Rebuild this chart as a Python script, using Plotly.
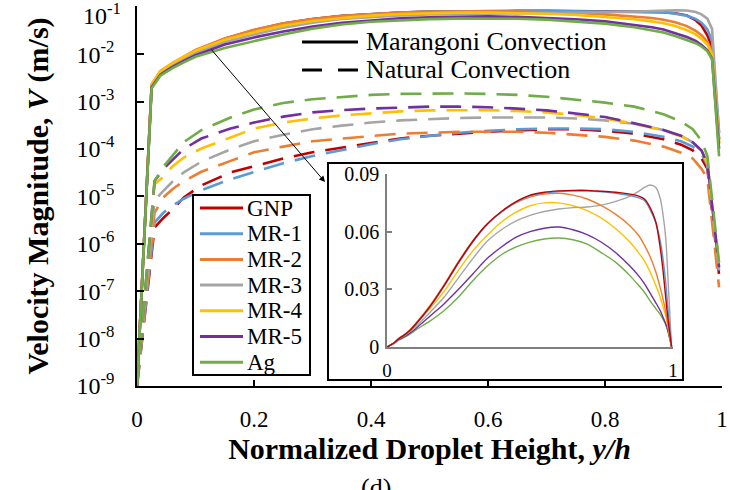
import plotly.graph_objects as go

# ---------------- data ----------------
FLUIDS = ["GNP", "MR-1", "MR-2", "MR-3", "MR-4", "MR-5", "Ag"]
COLORS = ["#C00000", "#5B9BD5", "#ED7D31", "#A5A5A5", "#FFC000", "#7030A0", "#70AD47"]

# Marangoni convection: velocity magnitude (m/s) vs normalized droplet height y/h
Y_MARANGONI = [0, 0.025, 0.04, 0.06, 0.08, 0.1, 0.15, 0.2, 0.25, 0.3, 0.35, 0.4, 0.45, 0.5,
               0.55, 0.6, 0.65, 0.7, 0.75, 0.8, 0.85, 0.88, 0.9, 0.92, 0.94, 0.955, 0.965,
               0.975, 0.983, 0.995]
V_GNP_M = [1e-9, 2.2e-3, 4.2e-3, 6.2e-3, 8.6e-3, 0.0118, 0.021, 0.032, 0.044, 0.055, 0.064,
           0.0705, 0.0755, 0.079, 0.0805, 0.0812, 0.0815, 0.0815, 0.081, 0.0805, 0.0795,
           0.0785, 0.077, 0.0725, 0.065, 0.052, 0.040, 0.025, 0.014, 1.6e-4]
V_MR1_M = [1e-9, 2.2e-3, 4.1e-3, 6.1e-3, 8.5e-3, 0.0116, 0.0207, 0.0317, 0.0436, 0.0546,
           0.0636, 0.0702, 0.0752, 0.0786, 0.0801, 0.0809, 0.0811, 0.0811, 0.0807, 0.0800,
           0.0788, 0.0776, 0.0762, 0.0715, 0.0645, 0.0555, 0.046, 0.033, 0.019, 2.2e-4]
V_MR2_M = [1e-9, 2.3e-3, 4.4e-3, 6.4e-3, 8.9e-3, 0.0122, 0.0215, 0.0325, 0.0445, 0.0552,
           0.0638, 0.0702, 0.075, 0.078, 0.0795, 0.080, 0.079, 0.077, 0.0735, 0.069, 0.063,
           0.058, 0.053, 0.047, 0.039, 0.031, 0.025, 0.018, 0.011, 1.3e-4]
V_MR3_M = [1e-9, 2.1e-3, 4.0e-3, 5.8e-3, 8.0e-3, 0.0105, 0.018, 0.026, 0.036, 0.046, 0.055,
           0.061, 0.0655, 0.0685, 0.0705, 0.0718, 0.0725, 0.0728, 0.0738, 0.0758, 0.0785,
           0.081, 0.083, 0.0843, 0.083, 0.0775, 0.069, 0.056, 0.034, 2.1e-4]
V_MR4_M = [1e-9, 2.3e-3, 4.4e-3, 6.4e-3, 8.8e-3, 0.0118, 0.020, 0.029, 0.040, 0.050, 0.058,
           0.065, 0.070, 0.0735, 0.075, 0.075, 0.0735, 0.071, 0.067, 0.0615, 0.0545, 0.049,
           0.0448, 0.039, 0.032, 0.026, 0.021, 0.016, 0.010, 1.3e-4]
V_MR5_M = [1e-9, 2.0e-3, 3.7e-3, 5.3e-3, 7.2e-3, 0.0095, 0.016, 0.0225, 0.030, 0.038, 0.046,
           0.052, 0.057, 0.060, 0.0618, 0.0624, 0.061, 0.0585, 0.0545, 0.049, 0.042, 0.037,
           0.033, 0.028, 0.023, 0.019, 0.0155, 0.012, 0.008, 1e-4]
V_AG_M = [1e-9, 1.9e-3, 3.5e-3, 5.0e-3, 6.7e-3, 0.0088, 0.0135, 0.019, 0.026, 0.0345, 0.042,
          0.048, 0.052, 0.0546, 0.0562, 0.0567, 0.0558, 0.0535, 0.049, 0.044, 0.037, 0.032,
          0.0285, 0.024, 0.020, 0.017, 0.0145, 0.0115, 0.0078, 7e-5]

# Natural convection: velocity magnitude (m/s)
Y_NATURAL = [0, 0.03, 0.045, 0.06, 0.08, 0.11, 0.16, 0.2, 0.25, 0.3, 0.35, 0.4, 0.45, 0.5,
             0.55, 0.6, 0.65, 0.7, 0.75, 0.8, 0.85, 0.9, 0.93, 0.95, 0.965, 0.975, 0.995]
V_GNP_N = [1e-9, 2.2e-6, 3.5e-6, 5.2e-6, 9.5e-6, 1.7e-5, 3.2e-5, 4.3e-5, 6.3e-5, 8.5e-5,
           1.07e-4, 1.35e-4, 1.66e-4, 1.9e-4, 2.1e-4, 2.3e-4, 2.45e-4, 2.6e-4, 2.6e-4,
           2.4e-4, 2.1e-4, 1.6e-4, 1.23e-4, 9.3e-5, 6.3e-5, 3.8e-5, 2.2e-7]
V_MR1_N = [1e-9, 2.8e-6, 4.5e-6, 6.3e-6, 8.9e-6, 1.35e-5, 2.3e-5, 3.3e-5, 5.0e-5, 7.1e-5,
           9.5e-5, 1.26e-4, 1.6e-4, 1.9e-4, 2.2e-4, 2.4e-4, 2.6e-4, 2.7e-4, 2.7e-4, 2.6e-4,
           2.3e-4, 1.8e-4, 1.45e-4, 1.12e-4, 7.9e-5, 4.5e-5, 2.5e-7]
V_MR2_N = [1e-9, 4.5e-6, 9.5e-6, 1.4e-5, 2.1e-5, 3.3e-5, 5.6e-5, 8.5e-5, 1.12e-4, 1.45e-4,
           1.66e-4, 1.9e-4, 2.1e-4, 2.2e-4, 2.3e-4, 2.3e-4, 2.3e-4, 2.2e-4, 2.0e-4, 1.8e-4,
           1.5e-4, 1.12e-4, 8.3e-5, 6.3e-5, 3.8e-5, 2.4e-5, 1.2e-7]
V_MR3_N = [1e-9, 8.3e-6, 1.3e-5, 2.0e-5, 3.2e-5, 5.4e-5, 9.8e-5, 1.45e-4, 2.0e-4, 2.6e-4,
           3.1e-4, 3.6e-4, 4.0e-4, 4.3e-4, 4.5e-4, 4.6e-4, 4.6e-4, 4.6e-4, 4.4e-4, 4.0e-4,
           3.4e-4, 2.5e-4, 1.9e-4, 1.38e-4, 9.3e-5, 5.0e-5, 2.8e-7]
V_MR4_N = [1e-9, 1.8e-5, 2.6e-5, 4.2e-5, 6.6e-5, 1.02e-4, 1.74e-4, 2.7e-4, 3.6e-4, 4.4e-4,
           5.1e-4, 5.6e-4, 6.2e-4, 6.5e-4, 6.6e-4, 6.6e-4, 6.3e-4, 5.9e-4, 5.2e-4, 4.4e-4,
           3.4e-4, 2.45e-4, 1.86e-4, 1.35e-4, 9.1e-5, 5.0e-5, 3.5e-7]
V_MR5_N = [1e-9, 2.1e-5, 3.8e-5, 5.8e-5, 1.0e-4, 1.66e-4, 2.7e-4, 3.6e-4, 4.8e-4, 5.9e-4,
           6.6e-4, 7.1e-4, 7.4e-4, 7.8e-4, 7.8e-4, 7.6e-4, 7.1e-4, 6.5e-4, 5.6e-4, 4.7e-4,
           3.5e-4, 2.5e-4, 1.9e-4, 1.38e-4, 9.3e-5, 5.0e-5, 3.2e-7]
V_AG_N = [1e-9, 2.1e-5, 4.2e-5, 7.2e-5, 1.4e-4, 2.5e-4, 4.6e-4, 6.8e-4, 9.3e-4, 1.12e-3,
          1.26e-3, 1.38e-3, 1.45e-3, 1.48e-3, 1.48e-3, 1.45e-3, 1.38e-3, 1.26e-3, 1.10e-3,
          9.5e-4, 7.8e-4, 5.4e-4, 3.8e-4, 2.6e-4, 1.5e-4, 7.1e-5, 4.0e-7]

X_TICKS = [0, 0.2, 0.4, 0.6, 0.8, 1]
X_TICK_TEXT = ["0", "0.2", "0.4", "0.6", "0.8", "1"]
Y_TICKS = [1e-9, 1e-8, 1e-7, 1e-6, 1e-5, 1e-4, 1e-3, 1e-2, 1e-1]
Y_TICK_TEXT = ["10<sup>-9</sup>", "10<sup>-8</sup>", "10<sup>-7</sup>", "10<sup>-6</sup>",
               "10<sup>-5</sup>", "10<sup>-4</sup>", "10<sup>-3</sup>", "10<sup>-2</sup>",
               "10<sup>-1</sup>"]
INSET_Y_TICKS = [0, 0.03, 0.06, 0.09]
INSET_Y_TEXT = ["0", "0.03", "0.06", "0.09"]
INSET_X_TICKS = [0, 1]
INSET_X_TEXT = ["0", "1"]

MARANGONI = [V_GNP_M, V_MR1_M, V_MR2_M, V_MR3_M, V_MR4_M, V_MR5_M, V_AG_M]
NATURAL = [V_GNP_N, V_MR1_N, V_MR2_N, V_MR3_N, V_MR4_N, V_MR5_N, V_AG_N]

# ---------------- layout helpers ----------------
W, H = 730, 490
L, R, T, B = 137, 8, 6, 104
PW, PH = W - L - R, H - T - B


def px(x):
    return (x - L) / PW


def py(y):
    return (H - B - y) / PH


FONT = "Liberation Serif, Times New Roman, serif"

fig = go.Figure()

# main plot: Marangoni (solid) and Natural (dashed)
for name, color, vm in zip(FLUIDS, COLORS, MARANGONI):
    fig.add_trace(go.Scatter(x=Y_MARANGONI, y=vm, mode="lines", name=name,
                             line=dict(color=color, width=2.6), showlegend=False,
                             xaxis="x", yaxis="y"))
for name, color, vn in zip(FLUIDS, COLORS, NATURAL):
    fig.add_trace(go.Scatter(x=Y_NATURAL, y=vn, mode="lines", name=name + " natural",
                             line=dict(color=color, width=2.6, dash="21px,11px"),
                             showlegend=False, xaxis="x", yaxis="y"))

# inset: Marangoni on linear axes
for name, color, vm in reversed(list(zip(FLUIDS, COLORS, MARANGONI))):
    fig.add_trace(go.Scatter(x=Y_MARANGONI, y=vm, mode="lines", name=name + " inset",
                             line=dict(color=color, width=1.4, shape="spline",
                                       smoothing=0.8),
                             showlegend=False, xaxis="x2", yaxis="y2"))

shapes = []
annotations = []

# inset frame
shapes.append(dict(type="rect", xref="paper", yref="paper",
                   x0=px(328), x1=px(683), y0=py(380), y1=py(163),
                   line=dict(color="black", width=2), fillcolor="rgba(0,0,0,0)",
                   layer="above"))

# colour legend (box, line samples, labels)
LEG_X0, LEG_X1, LEG_Y0, LEG_Y1 = 193, 310, 195, 375
shapes.append(dict(type="rect", xref="paper", yref="paper",
                   x0=px(LEG_X0), x1=px(LEG_X1), y0=py(LEG_Y1), y1=py(LEG_Y0),
                   line=dict(color="black", width=2), fillcolor="white", layer="above"))
for i, (name, color) in enumerate(zip(FLUIDS, COLORS)):
    yc = 208 + i * 25.7
    shapes.append(dict(type="line", xref="paper", yref="paper",
                       x0=px(200), x1=px(243), y0=py(yc), y1=py(yc),
                       line=dict(color=color, width=3), layer="above"))
    annotations.append(dict(text=name, xref="paper", yref="paper", x=px(245), y=py(yc),
                            xanchor="left", yanchor="middle", showarrow=False,
                            font=dict(family=FONT, size=23, color="black")))

# line-style legend
for i, (label, dash) in enumerate([("Marangoni Convection", "solid"),
                                   ("Natural Convection", "20px,16px")]):
    yc = 42 + i * 28
    shapes.append(dict(type="line", xref="paper", yref="paper",
                       x0=px(302), x1=px(358), y0=py(yc), y1=py(yc),
                       line=dict(color="black", width=3, dash=dash), layer="above"))
    annotations.append(dict(text=label, xref="paper", yref="paper", x=px(364), y=py(yc),
                            xanchor="left", yanchor="middle", showarrow=False,
                            font=dict(family=FONT, size=26, color="black")))

# top tick label of the log axis, nudged down so it stays inside the figure
annotations.append(dict(text=Y_TICK_TEXT[-1], xref="paper", yref="paper",
                        x=px(123), y=py(14), xanchor="right", yanchor="middle",
                        showarrow=False, font=dict(family=FONT, size=24, color="black")))

# arrow pointing to the inset
annotations.append(dict(text="", xref="paper", yref="paper", x=px(325), y=py(182),
                        ax=210 - 325, ay=48 - 182, axref="pixel", ayref="pixel",
                        showarrow=True, arrowhead=2, arrowsize=1.2, arrowwidth=1,
                        arrowcolor="black"))

# panel label
annotations.append(dict(text="(d)", xref="paper", yref="paper", x=px(376), y=py(471),
                        xanchor="center", yanchor="top", showarrow=False,
                        font=dict(family=FONT, size=26, color="black")))

fig.update_layout(
    width=W, height=H,
    margin=dict(l=L, r=R, t=T, b=B, pad=0),
    paper_bgcolor="white", plot_bgcolor="rgba(0,0,0,0)",
    font=dict(family=FONT, color="black"),
    showlegend=False,
    xaxis=dict(range=[0, 1], tickvals=X_TICKS, ticktext=X_TICK_TEXT,
               showgrid=False, zeroline=False, showline=True, linecolor="black",
               linewidth=1.5, ticks="inside", ticklen=6, tickwidth=1.5,
               tickcolor="black", tickfont=dict(family=FONT, size=23),
               ticklabelstandoff=12, automargin=False,
               title=dict(text="<b>Normalized Droplet Height, <i>y/h</i></b>",
                          font=dict(family=FONT, size=30), standoff=0)),
    yaxis=dict(type="log", range=[-9, -0.985], tickvals=Y_TICKS,
               ticktext=Y_TICK_TEXT[:-1] + [""],
               showgrid=False, zeroline=False, showline=True, linecolor="black",
               linewidth=1.5, ticks="inside", ticklen=7, tickwidth=1.5,
               tickcolor="black", tickfont=dict(family=FONT, size=24),
               ticklabelstandoff=16, ticklabeloverflow="allow", automargin=False,
               title=dict(text="<b>Velocity Magnitude, <i>V</i> (m/s)</b>",
                          font=dict(family=FONT, size=30), standoff=19)),
    xaxis2=dict(domain=[px(387), px(673)], anchor="y2", range=[0, 1],
                tickvals=INSET_X_TICKS, ticktext=INSET_X_TEXT, showgrid=False,
                zeroline=False, showline=True, linecolor="#7F7F7F", linewidth=1.5,
                ticks="", tickfont=dict(family=FONT, size=19), ticklabelstandoff=5,
                automargin=False),
    yaxis2=dict(domain=[py(347), py(174)], anchor="x2", range=[0, 0.09],
                tickvals=INSET_Y_TICKS, ticktext=INSET_Y_TEXT, showgrid=False,
                zeroline=False, showline=True, linecolor="#7F7F7F", linewidth=1.5,
                ticks="inside", ticklen=5, tickwidth=1.5, tickcolor="#7F7F7F",
                tickfont=dict(family=FONT, size=20), ticklabelstandoff=2,
                automargin=False),
    shapes=shapes,
    annotations=annotations,
)

fig.write_html("out.html")
